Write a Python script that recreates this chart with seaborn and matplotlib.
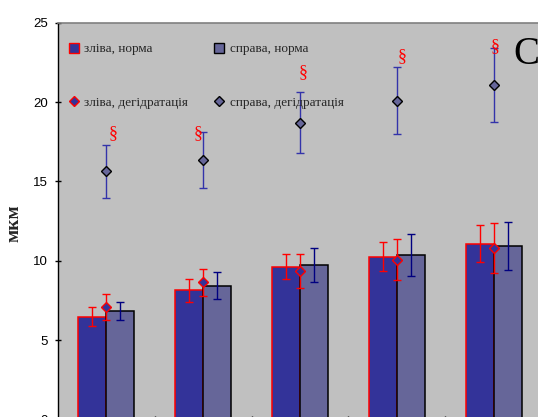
import numpy as np
import pandas as pd
import matplotlib
matplotlib.use("Agg")
import matplotlib.pyplot as plt
import seaborn as sns
from matplotlib.lines import Line2D

# Measurement groups (x axis) and values, μm
groups = ["I", "II", "III", "IV", "V"]
left_norm = [6.47, 8.14, 9.63, 10.26, 11.08]
left_norm_err = [0.60, 0.72, 0.79, 0.90, 1.18]
right_norm = [6.82, 8.44, 9.74, 10.37, 10.93]
right_norm_err = [0.58, 0.86, 1.08, 1.32, 1.51]
left_dehyd = [7.09, 8.65, 9.36, 10.08, 10.81]
left_dehyd_err = [0.81, 0.86, 1.09, 1.28, 1.60]
right_dehyd = [15.63, 16.36, 18.69, 20.09, 21.08]
right_dehyd_err = [1.69, 1.78, 1.93, 2.10, 2.33]
sig_labels = ["§", "§", "§", "§", "§"]

series_names = ["зліва, норма", "справа, норма", "зліва, дегідратація", "справа, дегідратація"]

# placement of the significance signs (data units / category offsets)
sig_y = [17.99, 17.99, 21.86, 22.89, 23.52]
sig_dx = [0.065, -0.05, 0.03, 0.05, 0.015]

BLUE = "#333399"
SLATE = "#666699"
GREY = "#C0C0C0"

sns.set_theme(style="white")
plt.rcParams["font.family"] = ["Liberation Sans", "DejaVu Sans"]

fig = plt.figure(figsize=(5.38, 4.17), dpi=100)
ax = fig.add_axes([58 / 538, -2.5 / 417, 484 / 538, 396.8 / 417])
ax.set_facecolor(GREY)

df = pd.DataFrame({
    "group": groups * 2,
    "side": [series_names[0]] * 5 + [series_names[1]] * 5,
    "value": left_norm + right_norm,
})

sns.barplot(data=df, x="group", y="value", hue="side",
            palette=[BLUE, SLATE], width=0.58, errorbar=None,
            saturation=1, legend=False, ax=ax, zorder=2)

left_bars, right_bars = ax.containers[0], ax.containers[1]
for p in left_bars:
    p.set_edgecolor("#FF0000")
    p.set_linewidth(1.1)
for p in right_bars:
    p.set_edgecolor("black")
    p.set_linewidth(1.1)
    p.set_zorder(2.1)

lx = [p.get_x() + p.get_width() / 2 for p in left_bars]
rx = [p.get_x() + p.get_width() / 2 for p in right_bars]
cx = np.arange(len(groups))

ax.errorbar(lx, left_norm, yerr=left_norm_err, fmt="none", ecolor="#FF0000",
            elinewidth=1.0, capsize=2.9, capthick=1.0, zorder=3)
ax.errorbar(rx, right_norm, yerr=right_norm_err, fmt="none", ecolor="#000080",
            elinewidth=1.0, capsize=2.9, capthick=1.0, zorder=3)
ax.errorbar(cx, left_dehyd, yerr=left_dehyd_err, fmt="D", color="#FF0000",
            mfc=BLUE, mec="#FF0000", ms=4.6, mew=1.0,
            elinewidth=1.0, capsize=2.9, capthick=1.0, zorder=4)
ax.errorbar(cx, right_dehyd, yerr=right_dehyd_err, fmt="D", color=BLUE,
            mfc=SLATE, mec="black", ms=4.6, mew=1.0, ecolor="#3333AA",
            elinewidth=1.0, capsize=2.9, capthick=1.0, zorder=4)

for i, s in enumerate(sig_labels):
    ax.text(cx[i] + sig_dx[i], sig_y[i], s, color="#FF0000", fontsize=13,
            family="Liberation Serif", ha="center", va="center", zorder=5)

ax.set_ylim(0, 25)
ax.set_xlim(-0.5, len(groups) - 0.5)
ax.set_yticks([0, 5, 10, 15, 20, 25])
ax.set_xticks(np.arange(len(groups) - 1) + 0.5)
ax.set_xticklabels([])
ax.set_xlabel("")
ax.tick_params(axis="y", direction="inout", length=5, width=1, color="black",
               labelsize=9.5, pad=4.5, left=True, labelcolor="black")
ax.tick_params(axis="x", direction="inout", length=6, width=1, color="black",
               bottom=True)
ax.set_ylabel("мкм", family="Liberation Serif", fontweight="bold", fontsize=14)
ax.yaxis.set_label_coords(-0.074, 0.495)

for side in ["left", "bottom"]:
    ax.spines[side].set_color("black")
    ax.spines[side].set_linewidth(1.0)
ax.spines["top"].set_color("#808080")
ax.spines["top"].set_linewidth(1.2)
ax.spines["right"].set_visible(False)

handles = [
    Line2D([], [], ls="none", marker="s", ms=6.5, mfc=BLUE, mec="#FF0000", mew=1.0),
    Line2D([], [], ls="none", marker="D", ms=4.6, mfc=BLUE, mec="#FF0000", mew=1.0),
    Line2D([], [], ls="none", marker="s", ms=6.5, mfc=SLATE, mec="black", mew=1.0),
    Line2D([], [], ls="none", marker="D", ms=4.6, mfc=SLATE, mec="black", mew=1.0),
]
labels = [series_names[0], series_names[2], series_names[1], series_names[3]]
ax.legend(handles, labels, ncol=2, frameon=False, loc="upper left",
          bbox_to_anchor=(0.0, 0.972), prop={"family": "Liberation Serif", "size": 9.5},
          labelspacing=3.15, columnspacing=1.83, handlelength=1.0, handletextpad=0.3,
          borderaxespad=0.3)

ax.text(0.94, 0.92, "C", transform=ax.transAxes, family="Liberation Serif",
        fontsize=28, ha="left", va="center", color="black")

fig.savefig("out.png", dpi=100)
